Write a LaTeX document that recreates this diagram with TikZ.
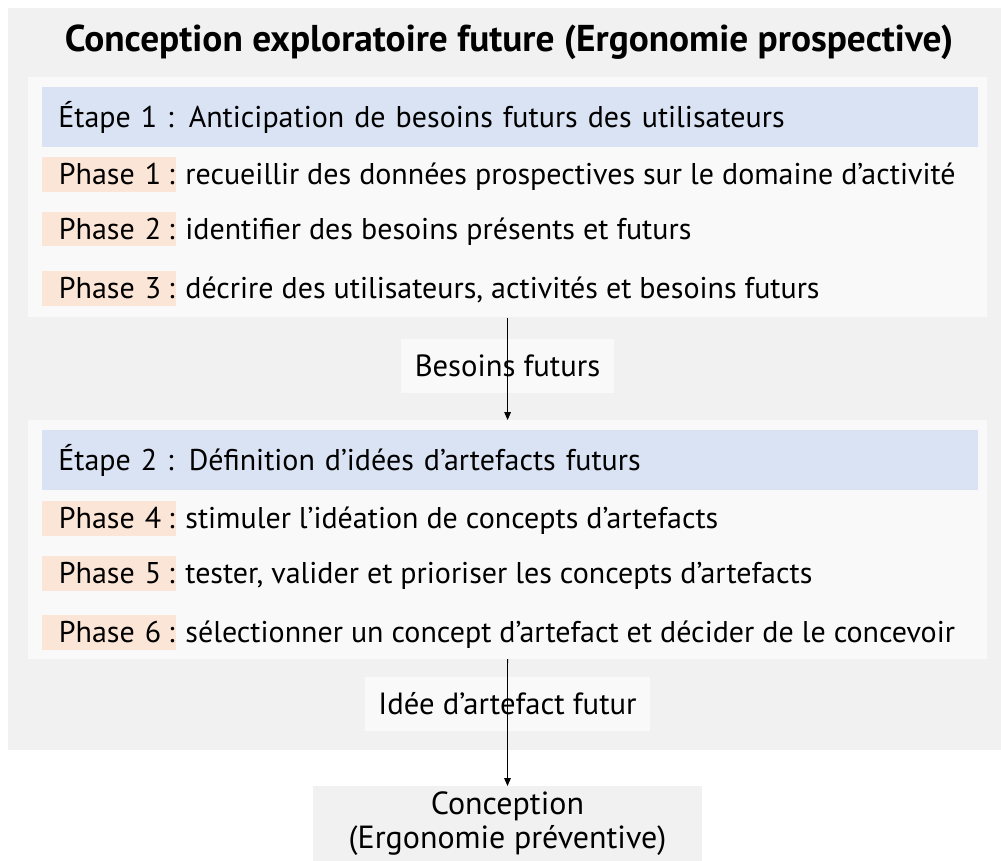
\documentclass[tikz,border=0pt]{standalone}
\usepackage{fontspec}
\setmainfont{PT Sans}
\usetikzlibrary{arrows.meta}
\definecolor{fondgris}{HTML}{F1F1F1}
\definecolor{fondclair}{HTML}{F9F9F9}
\definecolor{bleuetape}{HTML}{DAE3F3}
\definecolor{rosephase}{HTML}{FBE5D6}
\tikzset{
	texte/.style={inner sep=0pt, font=\fontsize{22.5}{26}\selectfont},
	bloc/.style={fill=fondclair, anchor=north west, inner sep=0pt, minimum width=719pt, minimum height=180pt},
	etape/.style={texte, fill=bleuetape, anchor=west, inner xsep=12pt, text width=678pt, align=left, minimum height=45pt},
	phase/.style={texte, fill=rosephase, anchor=west, inner xsep=0pt, text width=100pt, align=left, execute at begin node={\hspace*{12.5pt}}, minimum height=26pt, text height=15.5pt, text depth=0pt},
	desc/.style={texte, anchor=base west, xshift=-6pt},
	sortie/.style={texte, font=\fontsize{23}{27}\selectfont, fill=fondclair, inner xsep=10pt, minimum height=40.5pt},
	fleche/.style={line width=0.6pt, -{Triangle[length=6pt,width=5pt]}},
}
\begin{document}
\begin{tikzpicture}[x=0.75pt,y=-0.75pt]
	\useasboundingbox (0,0) rectangle (1001,861);
	
	% cadre general
	\node[fill=fondgris, anchor=north west, inner sep=0pt, minimum width=745pt, minimum height=556.5pt] (cadre) at (8,8) {};
	\node[texte, font=\bfseries\fontsize{28}{32}\selectfont] (titre) at (509,42) {Conception exploratoire future (Ergonomie prospective)};
	
	% Etape 1
	\node[bloc] (b1) at (28,77) {};
	\node[etape] (e1) at (42,117) {Étape 1 : Anticipation de besoins futurs des utilisateurs};
	
	% Etape 2
	\node[bloc, minimum height=179pt] (b2) at (28,420) {};
	\node[etape] (e2) at (42,460) {Étape 2 : Définition d’idées d’artefacts futurs};
	
	\foreach \n/\y/\desc in {1/174.5/{recueillir des données prospectives sur le domaine d’activité},
		2/229/{identifier des besoins présents et futurs},
		3/288.5/{décrire des utilisateurs, activités et besoins futurs},
		4/518.5/{stimuler l’idéation de concepts d’artefacts},
		5/573.5/{tester, valider et prioriser les concepts d’artefacts},
		6/632.5/{sélectionner un concept d’artefact et décider de le concevoir}}
	{
		\node[phase] (p\n) at (42,\y) {Phase \n};
		\node[desc] (d\n) at (p\n.base east) {: \desc};
	}
	
	% sorties
	\node[sortie] (s1) at (507.5,366) {Besoins futurs};
	\node[sortie] (s2) at (507.5,704) {Idée d’artefact futur};
	\node[texte, font=\fontsize{24}{25}\selectfont, fill=fondgris, align=center, anchor=north, minimum width=292pt, minimum height=56pt] (conc) at (507.5,786) {Conception\\(Ergonomie préventive)};
	
	\draw[fleche] (b1.south) -- (b2.north);
	\draw[fleche] (b2.south) -- (conc.north);
\end{tikzpicture}
\end{document}
